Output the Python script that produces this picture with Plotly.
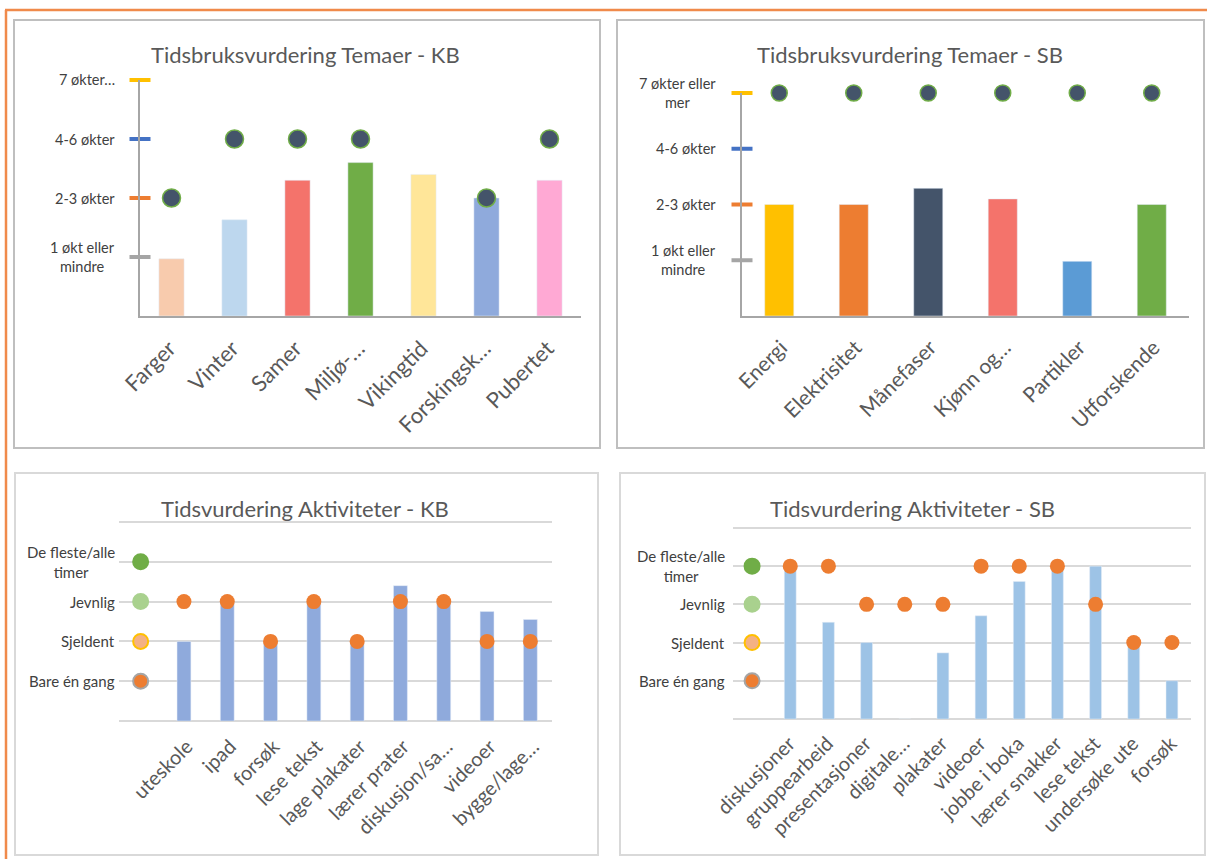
import plotly.graph_objects as go

W, H = 1207, 859

# ---------------- data ----------------
tema_level_values = [1, 2, 3, 4]
tema_labels_kb = ["1 økt eller<br>mindre", "2-3 økter", "4-6 økter", "7 økter…"]
tema_labels_sb = ["1 økt eller<br>mindre", "2-3 økter", "4-6 økter", "7 økter eller<br>mer"]
tema_level_colors = ["#A5A5A5", "#ED7D31", "#4472C4", "#FFC000"]

kb_temaer = ["Farger", "Vinter", "Samer", "Miljø-…", "Vikingtid", "Forskingsk…", "Pubertet"]
kb_tema_bars = [0.97, 1.63, 2.3, 2.6, 2.4, 2.0, 2.3]
kb_tema_dots = [2, 3, 3, 3, None, 2, 3]
kb_tema_colors = ["#F8CBAD", "#BDD7EE", "#F4736B", "#70AD47", "#FFE699", "#8FAADC", "#FFA9D4"]

sb_temaer = ["Energi", "Elektrisitet", "Månefaser", "Kjønn og…", "Partikler", "Utforskende"]
sb_tema_bars = [2.0, 2.0, 2.29, 2.1, 0.98, 2.0]
sb_tema_dots = [4, 4, 4, 4, 4, 4]
sb_tema_colors = ["#FFC000", "#ED7D31", "#44546A", "#F4736B", "#5B9BD5", "#70AD47"]

akt_level_values = [1, 2, 3, 4]
akt_labels = ["Bare én gang", "Sjeldent", "Jevnlig", "De fleste/alle<br>timer"]
akt_level_fill = ["#ED7D31", "#F4B183", "#A9D18E", "#70AD47"]
akt_level_line = ["#A5A5A5", "#FFC000", "#A9D18E", "#70AD47"]

kb_akt = ["uteskole", "ipad", "forsøk", "lese tekst", "lage plakater", "lærer prater",
          "diskusjon/sa…", "videoer", "bygge/lage…"]
kb_akt_bars = [2.0, 3.0, 2.0, 3.0, 2.0, 3.4, 3.0, 2.75, 2.55]
kb_akt_dots = [3, 3, 2, 3, 2, 3, 3, 2, 2]

sb_akt = ["diskusjoner", "gruppearbeid", "presentasjoner", "digitale…", "plakater", "videoer",
          "jobbe i boka", "lærer snakker", "lese tekst", "undersøke ute", "forsøk"]
sb_akt_bars = [4.0, 2.53, 2.0, 0, 1.73, 2.7, 3.6, 4.0, 4.0, 1.95, 1.0]
sb_akt_dots = [4, 4, 3, 3, 3, 4, 4, 4, 3, 2, 2]

titles = ["Tidsbruksvurdering Temaer - KB", "Tidsbruksvurdering Temaer - SB",
          "Tidsvurdering Aktiviteter - KB", "Tidsvurdering Aktiviteter - SB"]

FONT = "Lato"
TXT = "#595959"
LBL = "#404040"


def px(x):
    return x / W


def py(y):
    return 1 - y / H


fig = go.Figure()

# ---------- panel 1 ----------
n1 = len(kb_temaer)
fig.add_trace(go.Bar(x=list(range(n1)), y=kb_tema_bars, marker_color=kb_tema_colors,
                     width=0.4, xaxis="x", yaxis="y", hoverinfo="skip"))
fig.add_trace(go.Scatter(x=list(range(n1)), y=kb_tema_dots, mode="markers", xaxis="x", yaxis="y",
                         marker=dict(size=18, color="#44546A", line=dict(color="#70AD47", width=1.5)),
                         cliponaxis=False, hoverinfo="skip"))
fig.add_trace(go.Scatter(x=[-0.5] * 4, y=tema_level_values, mode="markers", xaxis="x", yaxis="y",
                         marker=dict(symbol="line-ew", size=15,
                                     line=dict(color=tema_level_colors, width=4)),
                         cliponaxis=False, hoverinfo="skip"))

# ---------- panel 2 ----------
n2 = len(sb_temaer)
fig.add_trace(go.Bar(x=list(range(n2)), y=sb_tema_bars, marker_color=sb_tema_colors,
                     width=0.39, xaxis="x2", yaxis="y2", hoverinfo="skip"))
fig.add_trace(go.Scatter(x=list(range(n2)), y=sb_tema_dots, mode="markers", xaxis="x2", yaxis="y2",
                         marker=dict(size=16, color="#44546A", line=dict(color="#70AD47", width=1.5)),
                         cliponaxis=False, hoverinfo="skip"))
fig.add_trace(go.Scatter(x=[-0.5] * 4, y=tema_level_values, mode="markers", xaxis="x2", yaxis="y2",
                         marker=dict(symbol="line-ew", size=15,
                                     line=dict(color=tema_level_colors, width=4)),
                         cliponaxis=False, hoverinfo="skip"))

# ---------- panel 3 ----------
n3 = len(kb_akt)
fig.add_trace(go.Bar(x=list(range(1, n3 + 1)), y=kb_akt_bars, marker_color="#8FAADC",
                     width=0.32, xaxis="x3", yaxis="y3", hoverinfo="skip"))
fig.add_trace(go.Scatter(x=list(range(1, n3 + 1)), y=kb_akt_dots, mode="markers", xaxis="x3", yaxis="y3",
                         marker=dict(size=15, color="#ED7D31", line=dict(color="#ED7D31", width=0)),
                         cliponaxis=False, hoverinfo="skip"))
fig.add_trace(go.Scatter(x=[0] * 4, y=akt_level_values, mode="markers", xaxis="x3", yaxis="y3",
                         marker=dict(size=15, color=akt_level_fill, line=dict(color=akt_level_line, width=2)),
                         cliponaxis=False, hoverinfo="skip"))

# ---------- panel 4 ----------
n4 = len(sb_akt)
fig.add_trace(go.Bar(x=list(range(1, n4 + 1)), y=sb_akt_bars, marker_color="#9DC3E6",
                     width=0.31, xaxis="x4", yaxis="y4", hoverinfo="skip"))
fig.add_trace(go.Scatter(x=list(range(1, n4 + 1)), y=sb_akt_dots, mode="markers", xaxis="x4", yaxis="y4",
                         marker=dict(size=15, color="#ED7D31", line=dict(color="#ED7D31", width=0)),
                         cliponaxis=False, hoverinfo="skip"))
fig.add_trace(go.Scatter(x=[0] * 4, y=akt_level_values, mode="markers", xaxis="x4", yaxis="y4",
                         marker=dict(size=15, color=akt_level_fill, line=dict(color=akt_level_line, width=2)),
                         cliponaxis=False, hoverinfo="skip"))


def xax(domain, n, labels, size, line, standoff, shift):
    return dict(domain=domain, range=[-0.5, n - 0.5], tickmode="array",
                tickvals=list(range(n)), ticktext=labels, tickangle=-45,
                tickfont=dict(family=FONT, size=size, color=TXT),
                ticklabelstandoff=standoff, ticklabelshift=shift,
                showline=line, linecolor="#A6A6A6", linewidth=2, showgrid=False,
                zeroline=False, ticks="", automargin=False, fixedrange=True)


def yax_line(domain):
    return dict(domain=domain, range=[0, 4], showline=True, linecolor="#A6A6A6", linewidth=2,
                showgrid=False, zeroline=False, showticklabels=False, ticks="",
                automargin=False, fixedrange=True)


def yax_grid(domain):
    return dict(domain=domain, range=[0, 5.05], showline=False, showgrid=True, gridcolor="#D9D9D9",
                gridwidth=2, tickmode="linear", tick0=0, dtick=1, zeroline=True,
                zerolinecolor="#D9D9D9", zerolinewidth=2, showticklabels=False, ticks="",
                automargin=False, fixedrange=True)


layout = dict(
    width=W, height=H, margin=dict(l=0, r=0, t=0, b=0),
    paper_bgcolor="white", plot_bgcolor="rgba(0,0,0,0)", showlegend=False,
    font=dict(family=FONT, color=TXT),
    xaxis=dict(xax([px(140), px(581)], n1, kb_temaer, 22, True, 9, -2), anchor="y"),
    yaxis=dict(yax_line([py(316), py(80)]), anchor="x"),
    xaxis2=dict(xax([px(742), px(1189)], n2, sb_temaer, 21, True, 9, 2), anchor="y2"),
    yaxis2=dict(yax_line([py(316), py(93)]), anchor="x2"),
    xaxis3=dict(xax([px(119), px(552)], n3 + 1, [""] + kb_akt, 20, False, 9, 3), anchor="y3"),
    yaxis3=dict(yax_grid([py(721), py(520)]), anchor="x3"),
    xaxis4=dict(xax([px(733), px(1191)], n4 + 1, [""] + sb_akt, 20, False, 8, -1), anchor="y4"),
    yaxis4=dict(yax_grid([py(719), py(526)]), anchor="x4"),
)
fig.update_layout(**layout)

# panel borders and the orange frame
shapes = []
for (x0, y0, x1, y1, col) in [(14, 20, 600, 448, "#BFBFBF"), (617, 20, 1204, 448, "#BFBFBF"),
                              (15, 473, 598, 855, "#D9D9D9"), (620, 473, 1205, 855, "#D9D9D9")]:
    shapes.append(dict(type="rect", xref="paper", yref="paper", x0=px(x0), x1=px(x1),
                       y0=py(y1), y1=py(y0), line=dict(color=col, width=2), layer="below"))
shapes.append(dict(type="line", xref="paper", yref="paper", x0=px(5), x1=1, y0=py(10), y1=py(10),
                   line=dict(color="#F08A4B", width=2.5)))
shapes.append(dict(type="line", xref="paper", yref="paper", x0=px(6), x1=px(6), y0=py(10), y1=0,
                   line=dict(color="#F08A4B", width=2.5)))
fig.update_layout(shapes=shapes)

ann = []
for t, cx, cy in zip(titles, [305, 910, 305, 912], [55, 55, 508, 508]):
    ann.append(dict(text=t, x=px(cx), y=py(cy), xref="paper", yref="paper", xanchor="center",
                    yanchor="middle", showarrow=False, font=dict(family=FONT, size=22, color=TXT)))

for lbls, yref, xr, fs in [(tema_labels_kb, "y", 117, 14.5), (tema_labels_sb, "y2", 718, 14.5),
                           (akt_labels, "y3", 117, 15), (akt_labels, "y4", 727, 15)]:
    vals = tema_level_values if yref in ("y", "y2") else akt_level_values
    for v, t in zip(vals, lbls):
        ann.append(dict(text=t, x=px(xr), y=v, xref="paper", yref=yref, xanchor="right",
                        yanchor="middle", align="center", showarrow=False,
                        font=dict(family=FONT, size=fs, color=LBL)))
fig.update_layout(annotations=ann)

fig.write_html("out.html")
